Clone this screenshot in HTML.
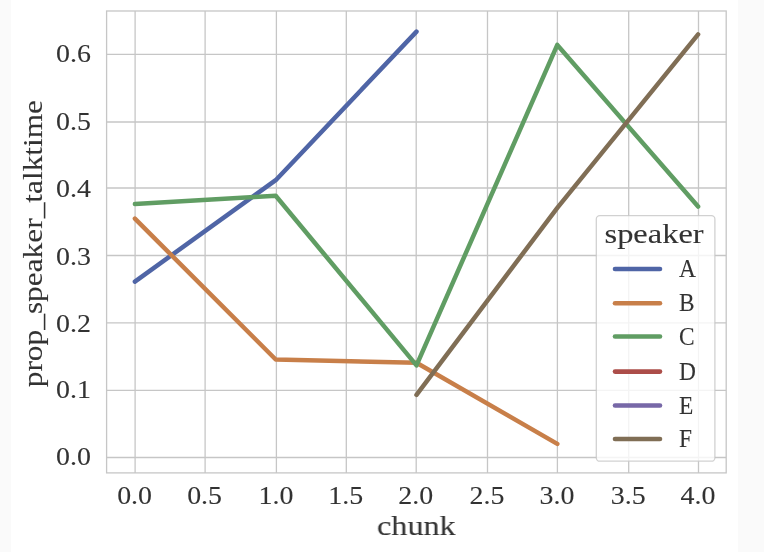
<!DOCTYPE html>
<html><head><meta charset="utf-8"><style>
html,body{margin:0;padding:0;background:#fff;}
body{width:764px;height:552px;overflow:hidden;font-family:"Liberation Serif",serif;}
svg{display:block;will-change:transform;}
</style></head><body>
<svg width="764" height="552" viewBox="0 0 764 552">
<defs><filter id="bl" x="-5%" y="-5%" width="110%" height="110%"><feGaussianBlur stdDeviation="0.6"/></filter><filter id="bt" x="-5%" y="-5%" width="110%" height="110%"><feGaussianBlur stdDeviation="0.4"/></filter></defs>
<rect x="0" y="0" width="764" height="552" fill="#fafafa"/>
<rect x="11" y="0" width="727" height="552" fill="#ffffff"/>
<g filter="url(#bl)">
<g stroke="#c6c6c6" stroke-width="1.3" fill="none"><line x1="135.10" y1="11.0" x2="135.10" y2="472.9"/><line x1="205.10" y1="11.0" x2="205.10" y2="472.9"/><line x1="276.40" y1="11.0" x2="276.40" y2="472.9"/><line x1="346.30" y1="11.0" x2="346.30" y2="472.9"/><line x1="416.20" y1="11.0" x2="416.20" y2="472.9"/><line x1="487.50" y1="11.0" x2="487.50" y2="472.9"/><line x1="557.40" y1="11.0" x2="557.40" y2="472.9"/><line x1="628.70" y1="11.0" x2="628.70" y2="472.9"/><line x1="698.50" y1="11.0" x2="698.50" y2="472.9"/><line x1="106.6" y1="457.50" x2="726.2" y2="457.50"/><line x1="106.6" y1="390.40" x2="726.2" y2="390.40"/><line x1="106.6" y1="322.90" x2="726.2" y2="322.90"/><line x1="106.6" y1="255.50" x2="726.2" y2="255.50"/><line x1="106.6" y1="188.00" x2="726.2" y2="188.00"/><line x1="106.6" y1="122.00" x2="726.2" y2="122.00"/><line x1="106.6" y1="54.30" x2="726.2" y2="54.30"/></g>
<rect x="106.6" y="11.0" width="619.60" height="461.90" fill="none" stroke="#c6c6c6" stroke-width="1.3"/>
<polyline points="134.90,281.60 275.70,180.20 416.50,31.60" fill="none" stroke="#5065A6" stroke-width="4.5" stroke-linecap="round" stroke-linejoin="round"/>
<polyline points="134.90,218.60 275.70,359.50 416.50,362.80 557.30,443.90" fill="none" stroke="#C87F4A" stroke-width="4.5" stroke-linecap="round" stroke-linejoin="round"/>
<polyline points="134.90,204.10 275.70,195.70 416.50,365.40 557.30,44.90 698.10,206.60" fill="none" stroke="#619D64" stroke-width="4.5" stroke-linecap="round" stroke-linejoin="round"/>
<polyline points="416.50,394.80 557.30,207.80 698.10,34.40" fill="none" stroke="#806E55" stroke-width="4.5" stroke-linecap="round" stroke-linejoin="round"/>
<g filter="url(#bt)" font-family="Liberation Serif" fill="#333333" stroke="#333333" stroke-width="0.1"><text transform="translate(134.60,504.10) scale(1.078,1)" font-size="25.9" text-anchor="middle">0.0</text><text transform="translate(204.60,504.10) scale(1.078,1)" font-size="25.9" text-anchor="middle">0.5</text><text transform="translate(275.90,504.10) scale(1.078,1)" font-size="25.9" text-anchor="middle">1.0</text><text transform="translate(345.80,504.10) scale(1.078,1)" font-size="25.9" text-anchor="middle">1.5</text><text transform="translate(415.70,504.10) scale(1.078,1)" font-size="25.9" text-anchor="middle">2.0</text><text transform="translate(487.00,504.10) scale(1.078,1)" font-size="25.9" text-anchor="middle">2.5</text><text transform="translate(556.90,504.10) scale(1.078,1)" font-size="25.9" text-anchor="middle">3.0</text><text transform="translate(628.20,504.10) scale(1.078,1)" font-size="25.9" text-anchor="middle">3.5</text><text transform="translate(698.00,504.10) scale(1.078,1)" font-size="25.9" text-anchor="middle">4.0</text><text transform="translate(90.90,465.46) scale(1.078,1)" font-size="25.9" text-anchor="end">0.0</text><text transform="translate(90.90,398.16) scale(1.078,1)" font-size="25.9" text-anchor="end">0.1</text><text transform="translate(90.90,331.86) scale(1.078,1)" font-size="25.9" text-anchor="end">0.2</text><text transform="translate(90.90,264.66) scale(1.078,1)" font-size="25.9" text-anchor="end">0.3</text><text transform="translate(90.90,197.16) scale(1.078,1)" font-size="25.9" text-anchor="end">0.4</text><text transform="translate(90.90,129.76) scale(1.078,1)" font-size="25.9" text-anchor="end">0.5</text><text transform="translate(90.90,62.46) scale(1.078,1)" font-size="25.9" text-anchor="end">0.6</text><text transform="translate(416.30,535.30) scale(1.15,1)" font-size="28" text-anchor="middle">chunk</text><text transform="translate(42.00,243.60) rotate(-90) scale(1.12,1)" font-size="28" text-anchor="middle">prop_speaker_talktime</text></g>
<rect x="596.3" y="215.7" width="118.60" height="245.50" rx="3.5" ry="3.5" fill="#ffffff" fill-opacity="0.8" stroke="#c6c6c6" stroke-opacity="0.8" stroke-width="1.3"/>
<line x1="615" y1="269.0" x2="660" y2="269.0" stroke="#5065A6" stroke-width="4.6" stroke-linecap="round"/>
<line x1="615" y1="303.3" x2="660" y2="303.3" stroke="#C87F4A" stroke-width="4.6" stroke-linecap="round"/>
<line x1="615" y1="336.5" x2="660" y2="336.5" stroke="#619D64" stroke-width="4.6" stroke-linecap="round"/>
<line x1="615" y1="371.6" x2="660" y2="371.6" stroke="#AC4E48" stroke-width="4.6" stroke-linecap="round"/>
<line x1="615" y1="405.5" x2="660" y2="405.5" stroke="#7767A7" stroke-width="4.6" stroke-linecap="round"/>
<line x1="615" y1="439.0" x2="660" y2="439.0" stroke="#806E55" stroke-width="4.6" stroke-linecap="round"/>
<g filter="url(#bt)" font-family="Liberation Serif" fill="#333333" stroke="#333333" stroke-width="0.1"><text transform="translate(604.50,243.40) scale(1.16,1)" font-size="28" text-anchor="start">speaker</text><text transform="translate(679.00,277.00) scale(0.9,1)" font-size="26" text-anchor="start">A</text><text transform="translate(679.00,311.30) scale(0.9,1)" font-size="26" text-anchor="start">B</text><text transform="translate(679.00,344.50) scale(0.9,1)" font-size="26" text-anchor="start">C</text><text transform="translate(679.00,379.60) scale(0.9,1)" font-size="26" text-anchor="start">D</text><text transform="translate(679.00,413.50) scale(0.9,1)" font-size="26" text-anchor="start">E</text><text transform="translate(679.00,447.00) scale(0.9,1)" font-size="26" text-anchor="start">F</text></g>
</g></svg>
</body></html>
